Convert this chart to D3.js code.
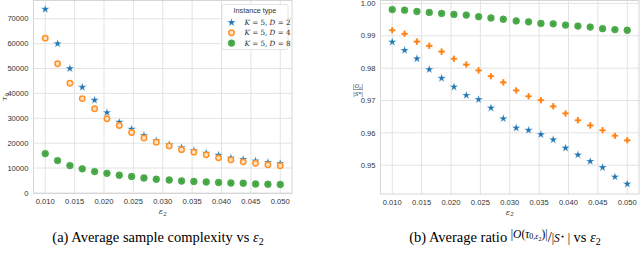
<!DOCTYPE html>
<html><head><meta charset="utf-8">
<script src="https://cdn.jsdelivr.net/npm/d3@7"></script>
<style>body{margin:0;background:#fff}svg{display:block}</style>
</head><body>
<svg id="c" width="640" height="262"></svg>
<script>
const eps = [0.010,0.0121,0.0142,0.0163,0.0184,0.0205,0.0226,0.0247,0.0268,0.0289,0.0311,0.0332,0.0353,0.0374,0.0395,0.0416,0.0437,0.0458,0.0479,0.050];
const seriesNames = ["K = 5, D = 2","K = 5, D = 4","K = 5, D = 8"];
const tauD2 = [73800,60000,50000,42500,37300,32300,28400,25600,23100,21000,19400,18200,17000,16000,15200,14100,13500,12900,12300,11900];
const tauD4 = [62200,51900,44100,37900,33800,29800,27100,24300,22100,20400,18900,17400,16400,15300,14100,13300,12500,11900,11300,10900];
const tauD8 = [15800,13000,11000,9700,8600,7900,7100,6600,6000,5500,5200,4800,4600,4400,4200,4000,3900,3600,3500,3400];
const ratioD2 = [0.9881,0.9855,0.9829,0.9796,0.9769,0.9742,0.9716,0.9703,0.9677,0.9644,0.9615,0.9608,0.9595,0.9579,0.9553,0.9532,0.9512,0.9493,0.9464,0.9442];
const ratioD4 = [0.9917,0.9906,0.9882,0.9869,0.9851,0.9829,0.9811,0.9793,0.9775,0.9756,0.9731,0.9713,0.9701,0.9682,0.9660,0.9639,0.9623,0.9608,0.9591,0.9577];
const ratioD8 = [0.9981,0.9979,0.9975,0.9972,0.9969,0.9966,0.9964,0.9959,0.9955,0.9951,0.9946,0.9943,0.9938,0.9937,0.9933,0.9930,0.9927,0.9922,0.9919,0.9917];
const xTicks = [0.010,0.015,0.020,0.025,0.030,0.035,0.040,0.045,0.050];
const tauTicks = [0,10000,20000,30000,40000,50000,60000,70000];
const ratioTicks = [0.95,0.96,0.97,0.98,0.99,1.00];

const colors = ["#1f77b4","#ff7f0e","#2ca02c"];
const svg = d3.select("#c");
const FONT = "'Liberation Sans', Arial, sans-serif";

function marker(g, kind, x, y, panel){
  if(kind===0){
    g.append("path").attr("d", d3.symbol(d3.symbolStar, 24)()).attr("transform",`translate(${x},${y})`)
     .attr("fill",colors[0]).attr("stroke","#fff").attr("stroke-width",0.4);
  } else if(kind===1){
    if(panel===0){
      g.append("circle").attr("cx",x).attr("cy",y).attr("r",2.7).attr("fill","#ffe2c4").attr("stroke","#ff9227").attr("stroke-width",1.5);
    } else {
      g.append("path").attr("d", d3.symbol(d3.symbolCross, 24)()).attr("transform",`translate(${x},${y})`)
       .attr("fill",colors[1]).attr("stroke","#fff").attr("stroke-width",0.3);
    }
  } else {
    g.append("circle").attr("cx",x).attr("cy",y).attr("r",3.4).attr("fill","#4caf4c").attr("stroke","#3d9a3d").attr("stroke-width",0.5);
    g.append("path").attr("d", d3.symbol(d3.symbolX ? d3.symbolX : d3.symbolCross, 8)()).attr("transform",`translate(${x},${y})`)
     .attr("fill","none").attr("stroke","#2a7d2a").attr("stroke-width",0.7).attr("opacity",0.6);
  }
}

function panel(opts){
  const g = svg.append("g");
  const x = d3.scaleLinear().domain([0.008,0.052]).range([opts.x0, opts.x1]);
  const y = d3.scaleLinear().domain(opts.ydom).range([opts.y1, opts.y0]);
  g.selectAll(".vg").data(xTicks).join("line").attr("x1",d=>x(d)).attr("x2",d=>x(d))
    .attr("y1",opts.y0).attr("y2",opts.y1).attr("stroke","#e3e3e3").attr("stroke-width",1);
  g.selectAll(".hg").data(opts.yticks).join("line").attr("x1",opts.x0).attr("x2",opts.x1)
    .attr("y1",d=>y(d)).attr("y2",d=>y(d)).attr("stroke","#e3e3e3").attr("stroke-width",1);
  g.append("rect").attr("x",opts.x0).attr("y",opts.y0).attr("width",opts.x1-opts.x0).attr("height",opts.y1-opts.y0)
    .attr("fill","none").attr("stroke","#d6d6d6").attr("stroke-width",1);
  g.selectAll(".xt").data(xTicks).join("text").attr("x",d=>x(d)).attr("y",opts.y1+10.5)
    .attr("text-anchor","middle").attr("font-family",FONT).attr("font-size",7.6).attr("fill","#333")
    .text(d=>d3.format(".3f")(d));
  g.selectAll(".yt").data(opts.yticks).join("text").attr("x",opts.x0-5).attr("y",d=>y(d)+2.7)
    .attr("text-anchor","end").attr("font-family",FONT).attr("font-size",7.6).attr("fill","#333")
    .text(opts.yfmt);
  const xl = g.append("text").attr("x",(x(0.010)+x(0.050))/2).attr("y",opts.y1+20.5).attr("text-anchor","middle")
    .attr("font-family","'DejaVu Serif', serif").attr("font-size",8).attr("font-style","italic").attr("fill","#333");
  xl.append("tspan").text("ε");
  xl.append("tspan").attr("font-size",5.5).attr("dy",1.8).text("2");
  opts.series.forEach((s,k)=>{
    s.forEach((v,i)=>marker(g,k,x(eps[i]),y(v),opts.idx));
  });
  return {g,x,y};
}

const L = panel({idx:0,x0:33.5,x1:292,y0:0.5,y1:193.5,ydom:[-225,77325],yticks:tauTicks,yfmt:d=>String(d),series:[tauD2,tauD4,tauD8]});
const R = panel({idx:1,x0:380.5,x1:639,y0:0.5,y1:194,ydom:[0.9411,1.0009],yticks:ratioTicks,yfmt:d=>d3.format(".2f")(d),series:[ratioD2,ratioD4,ratioD8]});

const yl = svg.append("text").attr("transform","translate(7,97) rotate(-90)").attr("text-anchor","middle")
  .attr("font-family","'DejaVu Serif', serif").attr("font-size",8).attr("font-style","italic").attr("fill","#333");
yl.append("tspan").text("τ");
yl.append("tspan").attr("font-size",5.5).attr("dy",1.8).attr("font-style","normal").text("0");

const fr = svg.append("g").attr("font-family","'DejaVu Serif', serif").attr("fill","#333");
fr.append("text").attr("x",358).attr("y",88).attr("text-anchor","middle").attr("font-size",5.5).attr("font-style","italic").text("|O")
  .append("tspan").attr("font-size",4).attr("dy",1).text("ε").append("tspan").attr("dy",-1).attr("font-size",5.5).attr("font-style","normal").text("|");
fr.append("line").attr("x1",353).attr("x2",363).attr("y1",89.5).attr("y2",89.5).attr("stroke","#333").attr("stroke-width",0.5);
fr.append("text").attr("x",358).attr("y",95.5).attr("text-anchor","middle").attr("font-size",5.5).attr("font-style","italic").text("|S*|");

const lg = svg.append("g");
lg.append("rect").attr("x",222).attr("y",4.5).attr("width",66).attr("height",45).attr("rx",2)
  .attr("fill","#fff").attr("fill-opacity",0.85).attr("stroke","#dcdcdc").attr("stroke-width",0.8);
lg.append("text").attr("x",255).attr("y",13).attr("text-anchor","middle").attr("font-family",FONT).attr("font-size",7.2).attr("fill","#333").text("Instance type");
seriesNames.forEach((n,k)=>{
  const yy = 22.5 + k*10.3;
  marker(lg,k,231.5,yy,0);
  const t = lg.append("text").attr("x",244.5).attr("y",yy+2.6).attr("font-family","'DejaVu Serif', serif").attr("font-size",7.2).attr("fill","#222");
  t.append("tspan").attr("font-style","italic").text("K");
  t.append("tspan").text(" = 5, ");
  t.append("tspan").attr("font-style","italic").text("D");
  t.append("tspan").text(" = " + n.split("= ").pop());
});

const cap = svg.append("g").attr("font-family","'Liberation Serif','Times New Roman',serif").attr("fill","#000");
const ca = cap.append("text").attr("x",158).attr("y",242).attr("text-anchor","middle").attr("font-size",14.5);
ca.append("tspan").text("(a) Average sample complexity vs ");
ca.append("tspan").attr("font-style","italic").text("ε");
ca.append("tspan").attr("font-size",10).attr("dy",2.5).text("2");
const cb = cap.append("text").attr("x",505).attr("y",242).attr("text-anchor","middle").attr("font-size",14.5);
cb.append("tspan").text("(b) Average ratio ");
cb.append("tspan").attr("font-size",11.5).attr("dy",-4).text("|");
cb.append("tspan").attr("font-size",11.5).attr("font-style","italic").text("O");
cb.append("tspan").attr("font-size",11.5).text("(");
cb.append("tspan").attr("font-size",11.5).attr("font-style","italic").text("τ");
cb.append("tspan").attr("font-size",8).attr("dy",1.4).text("0");
cb.append("tspan").attr("font-size",8).text(",");
cb.append("tspan").attr("font-size",8).attr("font-style","italic").text("ε");
cb.append("tspan").attr("font-size",6).attr("dy",1.2).text("2");
cb.append("tspan").attr("font-size",11.5).attr("dy",-2.6).text(")|");
cb.append("tspan").attr("font-size",14.5).attr("dy",4).text("/");
cb.append("tspan").attr("font-size",11.5).attr("dy",-0.5).text("|");
cb.append("tspan").attr("font-size",11.5).attr("font-style","italic").text("S");
cb.append("tspan").attr("font-size",8).attr("dy",-2.5).text("⋆");
cb.append("tspan").attr("font-size",11.5).attr("dy",2.5).text(" |");
cb.append("tspan").attr("font-size",14.5).attr("dy",0.5).text(" vs ");
cb.append("tspan").attr("font-style","italic").text("ε");
cb.append("tspan").attr("font-size",10).attr("dy",2.5).text("2");
</script>
</body></html>
